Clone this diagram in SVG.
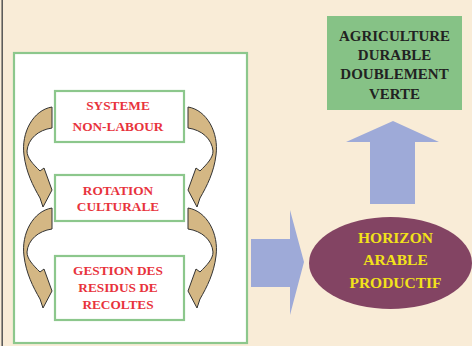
<svg xmlns="http://www.w3.org/2000/svg" xmlns:xlink="http://www.w3.org/1999/xlink" width="472" height="346" viewBox="0 0 472 346">
<style>
.bx{fill:#ffffff;stroke:#8cc78c;stroke-width:2.2}
.rt{font-family:"Liberation Serif","DejaVu Serif",serif;font-weight:bold;font-size:13.3px;fill:#e8333c;text-anchor:middle}
.gt{font-family:"Liberation Serif","DejaVu Serif",serif;font-weight:bold;font-size:15px;fill:#222222;text-anchor:middle}
.yt{font-family:"Liberation Serif","DejaVu Serif",serif;font-weight:bold;font-size:15.5px;fill:#f2e21a;text-anchor:middle}
.ca{fill:#d4b784;stroke:#333333;stroke-width:1;stroke-linejoin:round}
.ba{fill:#9eaad8}
</style>
<defs>
<path id="carr" class="ca" d="M52,107 C33,110 21,133 24,155 C26,172 33,186 40,198 L43,207 L52,190 L44,168 L40,171 C33,164 27,158 27,151 C28,139 38,130 52,128 Z"/>
</defs>
<rect x="0" y="0" width="472" height="346" fill="#f9ecd7"/>
<line x1="2.2" y1="0" x2="2.2" y2="346" stroke="#555555" stroke-width="1.5"/>
<g id="panel">
<rect x="14" y="53" width="233" height="290" fill="#ffffff" stroke="#8cc78c" stroke-width="2.2"/>
</g>
<g id="connectors">
<use xlink:href="#carr"/>
<use xlink:href="#carr" transform="matrix(-1 0 0 1 240 0)"/>
<use xlink:href="#carr" transform="translate(0 101)"/>
<use xlink:href="#carr" transform="matrix(-1 0 0 1 240 101)"/>
<polygon class="ba" points="251,239 290,239 290,210 304,262 290,315 290,287 251,287"/>
<polygon class="ba" points="370,204 370,142 346,142 393,121 439,142 415,142 415,204"/>
</g>
<g id="n-systeme">
<rect class="bx" x="55" y="91" width="129" height="51"/>
<text class="rt" x="118" y="110">SYSTEME</text>
<text class="rt" x="118" y="131">NON-LABOUR</text>
</g>
<g id="n-rotation">
<rect class="bx" x="55" y="175" width="129" height="46"/>
<text class="rt" x="118" y="195">ROTATION</text>
<text class="rt" x="118" y="211">CULTURALE</text>
</g>
<g id="n-gestion">
<rect class="bx" x="55" y="256" width="129" height="64"/>
<text class="rt" x="118" y="275">GESTION DES</text>
<text class="rt" x="118" y="292">RESIDUS DE</text>
<text class="rt" x="118" y="309">RECOLTES</text>
</g>
<g id="n-agriculture">
<rect x="327" y="16" width="135" height="94" fill="#86c286"/>
<text class="gt" x="394.5" y="41">AGRICULTURE</text>
<text class="gt" x="394.5" y="60">DURABLE</text>
<text class="gt" x="394.5" y="79">DOUBLEMENT</text>
<text class="gt" x="394.5" y="99">VERTE</text>
</g>
<g id="n-horizon">
<ellipse cx="390.5" cy="263" rx="81.5" ry="46" fill="#834463"/>
<text class="yt" x="395.5" y="243">HORIZON</text>
<text class="yt" x="395.5" y="265">ARABLE</text>
<text class="yt" x="395.5" y="288">PRODUCTIF</text>
</g>
</svg>
